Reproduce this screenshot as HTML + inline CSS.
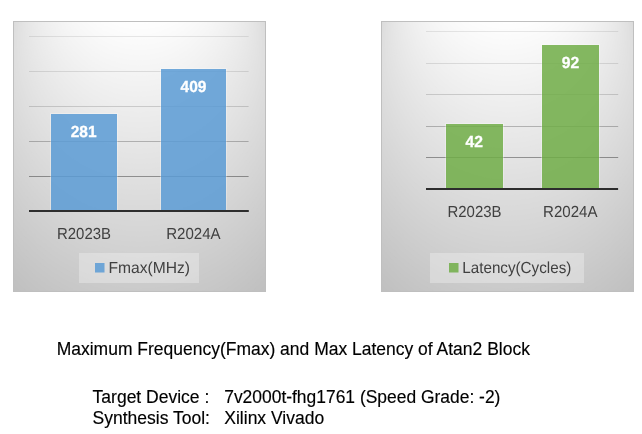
<!DOCTYPE html>
<html>
<head>
<meta charset="utf-8">
<title>Maximum Frequency(Fmax) and Max Latency of Atan2 Block</title>
<style>
html,body{margin:0;padding:0;background:#fff;}
body{width:642px;height:434px;overflow:hidden;position:relative;}
svg{display:block;position:absolute;left:0;top:0;}
text{font-family:"Liberation Sans",sans-serif;}
.ax{font-size:16px;text-rendering:geometricPrecision;fill:#404040;}
.dl{font-size:16px;stroke:#fff;stroke-width:0.3px;text-rendering:geometricPrecision;font-weight:bold;fill:#ffffff;}
.cap{font-size:17.5px;fill:#000;stroke:#000;stroke-width:0.15px;}
</style>
</head>
<body>
<svg width="642" height="434" viewBox="0 0 642 434">
  <defs>
    <clipPath id="box"><rect x="0" y="0" width="253" height="271"/></clipPath>
    <!-- chart-area background: circular path gradient (white to 75% grey) built from stacked ellipses -->
    <g id="cbg">
      <g clip-path="url(#box)">
      <rect x="0" y="0" width="253" height="271" fill="#bfbfbf"/>
      <ellipse cx="126.5" cy="133.82" rx="178.05" ry="190.71" fill="#c0c0c0"/>
      <ellipse cx="126.5" cy="130.46" rx="176.34" ry="188.89" fill="#c1c1c1"/>
      <ellipse cx="126.5" cy="127.11" rx="174.64" ry="187.06" fill="#c2c2c2"/>
      <ellipse cx="126.5" cy="123.75" rx="172.93" ry="185.23" fill="#c3c3c3"/>
      <ellipse cx="126.5" cy="120.39" rx="171.22" ry="183.41" fill="#c4c4c4"/>
      <ellipse cx="126.5" cy="117.03" rx="169.52" ry="181.58" fill="#c5c5c5"/>
      <ellipse cx="126.5" cy="113.67" rx="167.81" ry="179.75" fill="#c6c6c6"/>
      <ellipse cx="126.5" cy="110.32" rx="166.11" ry="177.93" fill="#c7c7c7"/>
      <ellipse cx="126.5" cy="106.96" rx="164.40" ry="176.10" fill="#c8c8c8"/>
      <ellipse cx="126.5" cy="103.60" rx="162.70" ry="174.27" fill="#c9c9c9"/>
      <ellipse cx="126.5" cy="100.24" rx="160.99" ry="172.45" fill="#cacaca"/>
      <ellipse cx="126.5" cy="96.88" rx="159.29" ry="170.62" fill="#cbcbcb"/>
      <ellipse cx="126.5" cy="93.53" rx="157.58" ry="168.80" fill="#cccccc"/>
      <ellipse cx="126.5" cy="90.17" rx="155.88" ry="166.97" fill="#cdcdcd"/>
      <ellipse cx="126.5" cy="86.81" rx="154.17" ry="165.14" fill="#cecece"/>
      <ellipse cx="126.5" cy="83.45" rx="152.47" ry="163.32" fill="#cfcfcf"/>
      <ellipse cx="126.5" cy="80.10" rx="150.76" ry="161.49" fill="#d0d0d0"/>
      <ellipse cx="126.5" cy="76.74" rx="149.06" ry="159.66" fill="#d1d1d1"/>
      <ellipse cx="126.5" cy="73.38" rx="147.35" ry="157.84" fill="#d2d2d2"/>
      <ellipse cx="126.5" cy="70.02" rx="145.65" ry="156.01" fill="#d3d3d3"/>
      <ellipse cx="126.5" cy="66.66" rx="143.94" ry="154.18" fill="#d4d4d4"/>
      <ellipse cx="126.5" cy="63.31" rx="142.24" ry="152.36" fill="#d5d5d5"/>
      <ellipse cx="126.5" cy="59.95" rx="140.53" ry="150.53" fill="#d6d6d6"/>
      <ellipse cx="126.5" cy="56.59" rx="138.83" ry="148.70" fill="#d7d7d7"/>
      <ellipse cx="126.5" cy="53.23" rx="137.12" ry="146.88" fill="#d8d8d8"/>
      <ellipse cx="126.5" cy="49.87" rx="135.42" ry="145.05" fill="#d9d9d9"/>
      <ellipse cx="126.5" cy="46.52" rx="133.71" ry="143.23" fill="#dadada"/>
      <ellipse cx="126.5" cy="43.16" rx="132.01" ry="141.40" fill="#dbdbdb"/>
      <ellipse cx="126.5" cy="39.80" rx="130.30" ry="139.57" fill="#dcdcdc"/>
      <ellipse cx="126.5" cy="36.44" rx="128.60" ry="137.75" fill="#dddddd"/>
      <ellipse cx="126.5" cy="33.09" rx="126.89" ry="135.92" fill="#dedede"/>
      <ellipse cx="126.5" cy="29.73" rx="125.19" ry="134.09" fill="#dfdfdf"/>
      <ellipse cx="126.5" cy="26.37" rx="123.48" ry="132.27" fill="#e0e0e0"/>
      <ellipse cx="126.5" cy="23.01" rx="121.78" ry="130.44" fill="#e1e1e1"/>
      <ellipse cx="126.5" cy="19.65" rx="120.07" ry="128.61" fill="#e2e2e2"/>
      <ellipse cx="126.5" cy="16.30" rx="118.37" ry="126.79" fill="#e3e3e3"/>
      <ellipse cx="126.5" cy="12.94" rx="116.66" ry="124.96" fill="#e4e4e4"/>
      <ellipse cx="126.5" cy="9.58" rx="114.96" ry="123.13" fill="#e5e5e5"/>
      <ellipse cx="126.5" cy="6.22" rx="113.25" ry="121.31" fill="#e6e6e6"/>
      <ellipse cx="126.5" cy="2.86" rx="111.55" ry="119.48" fill="#e7e7e7"/>
      <ellipse cx="126.5" cy="-0.49" rx="109.84" ry="117.66" fill="#e8e8e8"/>
      <ellipse cx="126.5" cy="-3.85" rx="108.14" ry="115.83" fill="#e9e9e9"/>
      <ellipse cx="126.5" cy="-7.21" rx="106.43" ry="114.00" fill="#eaeaea"/>
      <ellipse cx="126.5" cy="-10.57" rx="104.73" ry="112.18" fill="#ebebeb"/>
      <ellipse cx="126.5" cy="-13.92" rx="103.02" ry="110.35" fill="#ececec"/>
      <ellipse cx="126.5" cy="-17.28" rx="101.31" ry="108.52" fill="#ededed"/>
      <ellipse cx="126.5" cy="-20.64" rx="99.61" ry="106.70" fill="#eeeeee"/>
      <ellipse cx="126.5" cy="-24.00" rx="97.90" ry="104.87" fill="#efefef"/>
      <ellipse cx="126.5" cy="-27.36" rx="96.20" ry="103.04" fill="#f0f0f0"/>
      <ellipse cx="126.5" cy="-30.71" rx="94.49" ry="101.22" fill="#f1f1f1"/>
      <ellipse cx="126.5" cy="-34.07" rx="92.79" ry="99.39" fill="#f2f2f2"/>
      <ellipse cx="126.5" cy="-37.43" rx="91.08" ry="97.56" fill="#f3f3f3"/>
      <ellipse cx="126.5" cy="-40.79" rx="89.38" ry="95.74" fill="#f4f4f4"/>
      <ellipse cx="126.5" cy="-44.15" rx="87.67" ry="93.91" fill="#f5f5f5"/>
      <ellipse cx="126.5" cy="-47.50" rx="85.97" ry="92.09" fill="#f6f6f6"/>
      <ellipse cx="126.5" cy="-50.86" rx="84.26" ry="90.26" fill="#f7f7f7"/>
      <ellipse cx="126.5" cy="-54.22" rx="82.56" ry="88.43" fill="#f8f8f8"/>
      <ellipse cx="126.5" cy="-57.58" rx="80.85" ry="86.61" fill="#f9f9f9"/>
      <ellipse cx="126.5" cy="-60.93" rx="79.15" ry="84.78" fill="#fafafa"/>
      <ellipse cx="126.5" cy="-64.29" rx="77.44" ry="82.95" fill="#fbfbfb"/>
      <ellipse cx="126.5" cy="-67.65" rx="75.74" ry="81.13" fill="#fcfcfc"/>
      <ellipse cx="126.5" cy="-71.01" rx="74.03" ry="79.30" fill="#fdfdfd"/>
      <ellipse cx="126.5" cy="-74.37" rx="72.33" ry="77.47" fill="#fefefe"/>
      <ellipse cx="126.5" cy="-77.72" rx="70.62" ry="75.65" fill="#ffffff"/>
      </g>
      <rect x="0.5" y="0.5" width="252" height="270" fill="none" stroke="#bfbfbf"/>
    </g>
  </defs>

  <!-- LEFT CHART -->
  <use href="#cbg" x="13" y="21"/>
  <g stroke-width="1">
    <line x1="29" x2="248.6" y1="36.5" y2="36.5" stroke="#000000" stroke-opacity="0.085"/>
    <line x1="29" x2="248.6" y1="71.5" y2="71.5" stroke="#000000" stroke-opacity="0.105"/>
    <line x1="29" x2="248.6" y1="106.5" y2="106.5" stroke="#000000" stroke-opacity="0.15"/>
    <line x1="29" x2="248.6" y1="141.5" y2="141.5" stroke="#000000" stroke-opacity="0.24"/>
    <line x1="29" x2="248.6" y1="176.5" y2="176.5" stroke="#000000" stroke-opacity="0.365"/>
  </g>
  <rect x="51" y="114" width="66" height="96" fill="#5b9bd5" fill-opacity="0.85"/>
  <rect x="50.5" y="113.5" width="67" height="97" fill="none" stroke="#ffffff" stroke-opacity="0.28"/>
  <rect x="161" y="69" width="65" height="141" fill="#5b9bd5" fill-opacity="0.85"/>
  <rect x="160.5" y="68.5" width="66" height="142" fill="none" stroke="#ffffff" stroke-opacity="0.28"/>
  <rect x="29" y="210" width="219.8" height="2" fill="#2e2e2e"/>
  <text class="dl" x="83.6" y="137" text-anchor="middle" textLength="25.8" lengthAdjust="spacingAndGlyphs">281</text>
  <text class="dl" x="193.5" y="92" text-anchor="middle" textLength="25.8" lengthAdjust="spacingAndGlyphs">409</text>
  <text class="ax" x="84" y="239" text-anchor="middle" textLength="54" lengthAdjust="spacingAndGlyphs">R2023B</text>
  <text class="ax" x="193.4" y="239" text-anchor="middle" textLength="54.4" lengthAdjust="spacingAndGlyphs">R2024A</text>
  <rect x="79" y="253" width="120" height="30" fill="#f2f2f2" fill-opacity="0.39"/>
  <rect x="95" y="263" width="9.5" height="9.5" fill="#5b9bd5" fill-opacity="0.85"/>
  <text class="ax" x="108.5" y="272.5" textLength="81.5" lengthAdjust="spacingAndGlyphs">Fmax(MHz)</text>

  <!-- RIGHT CHART -->
  <use href="#cbg" x="381" y="21"/>
  <g stroke-width="1">
    <line x1="426" x2="618.2" y1="31.5" y2="31.5" stroke="#000000" stroke-opacity="0.085"/>
    <line x1="426" x2="618.2" y1="63.5" y2="63.5" stroke="#000000" stroke-opacity="0.105"/>
    <line x1="426" x2="618.2" y1="94.5" y2="94.5" stroke="#000000" stroke-opacity="0.15"/>
    <line x1="426" x2="618.2" y1="126.5" y2="126.5" stroke="#000000" stroke-opacity="0.24"/>
    <line x1="426" x2="618.2" y1="157.5" y2="157.5" stroke="#000000" stroke-opacity="0.365"/>
  </g>
  <rect x="446" y="124" width="57" height="64" fill="#70ad47" fill-opacity="0.85"/>
  <rect x="445.5" y="123.5" width="58" height="65" fill="none" stroke="#ffffff" stroke-opacity="0.28"/>
  <rect x="542" y="45" width="57" height="143" fill="#70ad47" fill-opacity="0.85"/>
  <rect x="541.5" y="44.5" width="58" height="144" fill="none" stroke="#ffffff" stroke-opacity="0.28"/>
  <rect x="426" y="188" width="192.1" height="2" fill="#2d2d2d"/>
  <text class="dl" x="474.3" y="147.2" text-anchor="middle" textLength="17.4" lengthAdjust="spacingAndGlyphs">42</text>
  <text class="dl" x="570.4" y="68" text-anchor="middle" textLength="17.4" lengthAdjust="spacingAndGlyphs">92</text>
  <text class="ax" x="474.5" y="217" text-anchor="middle" textLength="54" lengthAdjust="spacingAndGlyphs">R2023B</text>
  <text class="ax" x="570.3" y="217" text-anchor="middle" textLength="54.4" lengthAdjust="spacingAndGlyphs">R2024A</text>
  <rect x="430" y="253" width="154" height="30" fill="#f2f2f2" fill-opacity="0.39"/>
  <rect x="449" y="263" width="9.5" height="9.5" fill="#70ad47" fill-opacity="0.85"/>
  <text class="ax" x="462.3" y="272.5" textLength="109" lengthAdjust="spacingAndGlyphs">Latency(Cycles)</text>

  <!-- CAPTION -->
  <text class="cap" x="56.7" y="355.1" textLength="473.2" lengthAdjust="spacingAndGlyphs">Maximum Frequency(Fmax) and Max Latency of Atan2 Block</text>
  <text class="cap" x="92.6" y="403">Target Device :</text>
  <text class="cap" x="224.2" y="403" textLength="276.2" lengthAdjust="spacingAndGlyphs">7v2000t-fhg1761 (Speed Grade: -2)</text>
  <text class="cap" x="92.6" y="424">Synthesis Tool:</text>
  <text class="cap" x="224.3" y="424">Xilinx Vivado</text>
</svg>
</body>
</html>
